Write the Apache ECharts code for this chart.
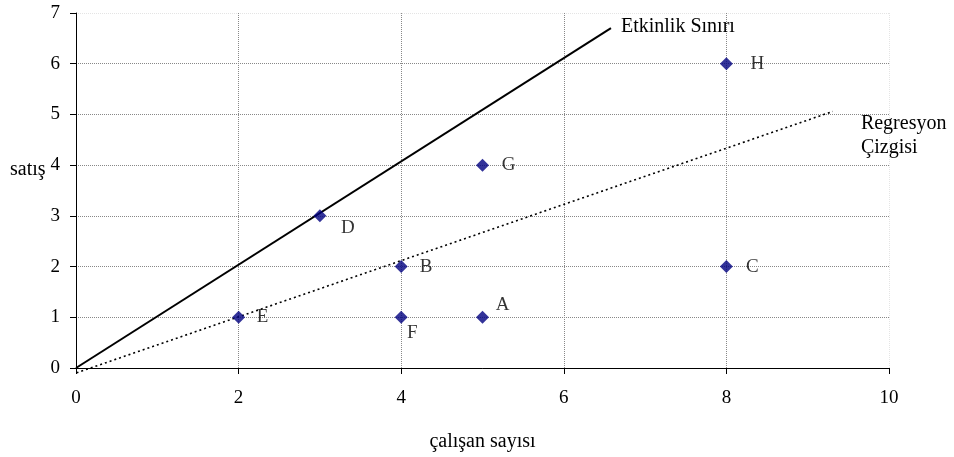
<!DOCTYPE html>
<html><head><meta charset="utf-8">
<script src="https://cdn.jsdelivr.net/npm/echarts@6/dist/echarts.min.js"></script>
<style>html,body{margin:0;padding:0;background:#fff;overflow:hidden}#c{width:954px;height:457px}</style>
</head><body><div id="c"></div>
<script>
const pointNames = ['A','B','C','D','E','F','G','H'];
const xValues = [5, 4, 8, 3, 2, 4, 5, 8];
const yValues = [1, 2, 2, 3, 1, 1, 4, 6];
const frontierLine = [[0, 0], [6.58, 6.7]];
const regressionLine = [[-0.11, -0.16], [9.31, 5.06]];
const xTicks = [0, 2, 4, 6, 8, 10];
const yTicks = [0, 1, 2, 3, 4, 5, 6, 7];

const FONT = '"Liberation Serif", "DejaVu Serif", serif';
const labelOffsets = {A:[20,-12], B:[25,0], C:[26,0], D:[28,12], E:[24,0], F:[11,16], G:[26,0], H:[31,0]};

const pts = pointNames.map((n, i) => ({
  value: [xValues[i], yValues[i]],
  name: n,
  label: {offset: labelOffsets[n]}
}));

const chart = echarts.init(document.getElementById('c'));
chart.setOption({
  animation: false,
  backgroundColor: '#fff',
  grid: {left: 76, right: 65, top: 13, bottom: 87, containLabel: false},
  xAxis: {
    type: 'value', min: 0, max: 10, interval: 2,
    name: 'çalışan sayısı', nameLocation: 'middle', nameGap: 64,
    nameTextStyle: {fontFamily: FONT, fontSize: 20, color: '#000'},
    axisLine: {show: true, onZero: false, lineStyle: {color: '#000', width: 1}},
    axisTick: {show: true, inside: false, length: 6, lineStyle: {color: '#000'}},
    axisLabel: {fontFamily: FONT, fontSize: 19, color: '#000', margin: 21,
      formatter: v => xTicks.includes(v) ? String(v) : ''},
    splitLine: {show: true, lineStyle: {type: 'dotted', width: 1,
      color: ['#888','#888','#888','#888','#888','#e4e4e4']}}
  },
  yAxis: {
    type: 'value', min: 0, max: 7, interval: 1,
    axisLine: {show: true, onZero: false, lineStyle: {color: '#000', width: 1}},
    axisTick: {show: true, inside: false, length: 6, lineStyle: {color: '#000'}},
    axisLabel: {fontFamily: FONT, fontSize: 19, color: '#000', margin: 16,
      formatter: v => yTicks.includes(v) ? String(v) : ''},
    splitLine: {show: true, lineStyle: {type: 'dotted', width: 1,
      color: ['#888','#888','#888','#888','#888','#888','#888','#e4e4e4']}}
  },
  graphic: [{
    type: 'text', x: 10, y: 170,
    style: {text: 'satış', font: '20px ' + FONT, fill: '#000', verticalAlign: 'middle', align: 'left'}
  }],
  series: [
    {
      type: 'line', data: frontierLine, symbol: 'none', clip: false,
      lineStyle: {color: '#000', width: 2, type: 'solid'},
      endLabel: {show: true, formatter: 'Etkinlik Sınırı', fontFamily: FONT, fontSize: 20,
        color: '#000', offset: [2, -1]},
      z: 2
    },
    {
      type: 'line', data: regressionLine, symbol: 'none', clip: false,
      lineStyle: {color: '#000', width: 1.6, type: [2, 3]},
      endLabel: {show: true, formatter: 'Regresyon\nÇizgisi', fontFamily: FONT, fontSize: 20,
        color: '#000', align: 'left', lineHeight: 24, offset: [20, 24]},
      z: 2
    },
    {
      type: 'scatter', data: pts, symbol: 'diamond', symbolSize: 13,
      itemStyle: {color: '#000080'},
      label: {show: true, formatter: p => p.name, position: 'inside',
        fontFamily: FONT, fontSize: 19, color: '#000'},
      z: 3
    }
  ]
});
</script></body></html>
